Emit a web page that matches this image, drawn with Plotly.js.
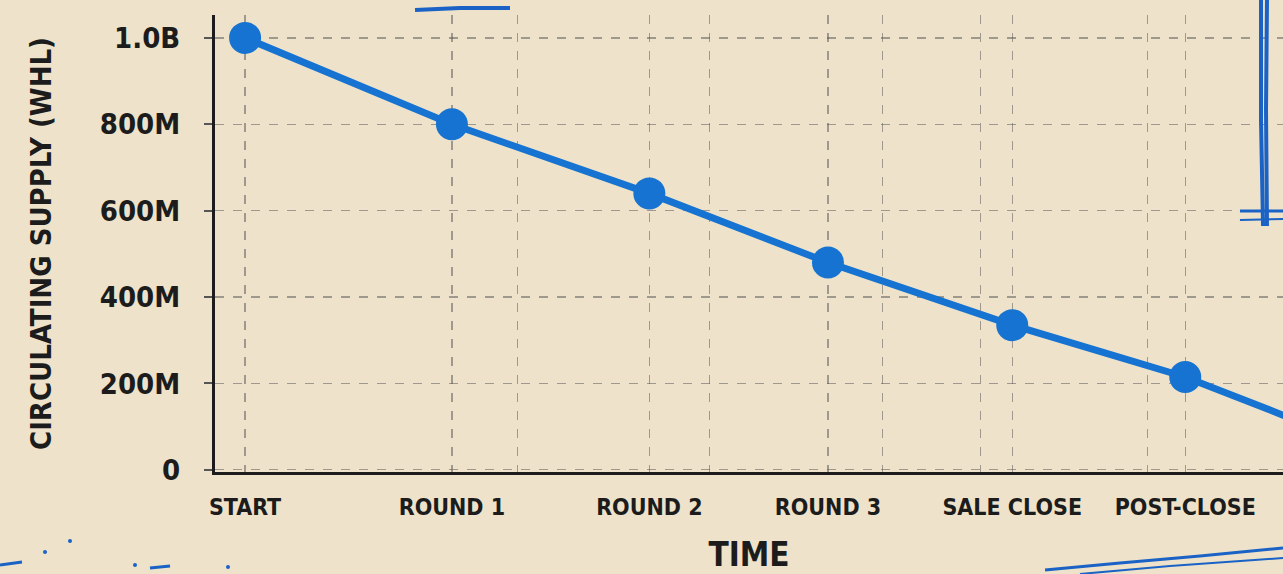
<!DOCTYPE html>
<html>
<head>
<meta charset="utf-8">
<script src="https://cdn.plot.ly/plotly-3.0.1.min.js"></script>
<style>
  html, body { margin: 0; padding: 0; background: #eee3ca; }
  #chart { width: 1283px; height: 574px; }
  #chart svg text { font-stretch: condensed !important; }
</style>
</head>
<body>
<div id="chart"></div>
<script>
// ---- data ----
const stages = ["START", "ROUND 1", "ROUND 2", "ROUND 3", "SALE CLOSE", "POST-CLOSE"];
const stageTime = [0, 1.1, 2.15, 3.1, 4.08, 5.0];          // relative time of each stage
const supply = [1.0e9, 0.80e9, 0.64e9, 0.48e9, 0.335e9, 0.215e9];
const nextTime = 6.0, nextSupply = 0.045e9;                 // following point, beyond the right edge
const yTickVals = [0, 2e8, 4e8, 6e8, 8e8, 1e9];
const yTickText = ["0", "200M", "400M", "600M", "800M", "1.0B"];

const xVals = stageTime.concat([nextTime]);
const yVals = supply.concat([nextSupply]);

const FONT = "DejaVu Sans Condensed, DejaVu Sans, sans-serif";
const INK = "#1c1c1c";
const BLUE = "#1673d1";
const PEN = "#1a62c6";

// pixel -> paper helpers (plot area: l=215, r=0, t=15, b=102)
const L = 215, T = 15, W = 1283 - 215, H = 574 - 15 - 102;
const px = v => (v - L) / W;
const py = v => (T + H - v) / H;

function path(pts) {
  return pts.map((p, i) => (i ? "L" : "M") + px(p[0]).toFixed(4) + "," + py(p[1]).toFixed(4)).join(" ");
}

const decor = [
  { pts: [[415, 10], [460, 8], [510, 8]], w: 4 },
  { pts: [[1261, 0], [1261, 120], [1263, 226]], w: 4 },
  { pts: [[1267, 0], [1266, 110], [1267, 226]], w: 4 },
  { pts: [[1240, 211], [1283, 211]], w: 3 },
  { pts: [[1240, 220], [1283, 219]], w: 2 },
  { pts: [[1045, 570], [1120, 563], [1200, 556], [1283, 548]], w: 3 },
  { pts: [[1080, 574], [1170, 566], [1283, 558]], w: 2 },
  { pts: [[0, 565], [22, 562]], w: 3 },
  { pts: [[150, 568], [170, 566]], w: 3 }
];

const shapes = decor.map(d => ({
  type: "path", xref: "paper", yref: "paper", path: path(d.pts),
  line: { color: PEN, width: d.w }, layer: "above"
}));
[[70, 541], [45, 552], [135, 565], [228, 567]].forEach(p => {
  shapes.push({
    type: "circle", xref: "paper", yref: "paper",
    x0: px(p[0] - 2), x1: px(p[0] + 2), y0: py(p[1] + 2), y1: py(p[1] - 2),
    fillcolor: PEN, line: { width: 0 }
  });
});

const trace = {
  x: xVals, y: yVals, type: "scatter", mode: "lines+markers",
  line: { color: BLUE, width: 7 },
  marker: { color: BLUE, size: 32 },
  cliponaxis: true, hoverinfo: "skip"
};

const GRID = "rgba(80,80,80,0.5)";
const layout = {
  width: 1283, height: 574,
  paper_bgcolor: "#eee3ca", plot_bgcolor: "#eee3ca",
  margin: { l: L, r: 0, t: T, b: 102, pad: 0 },
  showlegend: false,
  font: { family: FONT, color: INK },
  xaxis: {
    range: [-0.16, 5.52],
    tickmode: "array", tickvals: stageTime, ticktext: stages,
    tickfont: { family: FONT, size: 23, color: INK, weight: "bold" },
    ticks: "", ticklabelstandoff: 12,
    showline: true, linecolor: INK, linewidth: 3,
    showgrid: true, gridcolor: GRID, griddash: "dash", gridwidth: 1.3,
    minor: { tickmode: "array", tickvals: [1.45, 2.47, 3.39, 3.91, 4.8], showgrid: true,
             gridcolor: GRID, griddash: "dash", gridwidth: 1.3 },
    zeroline: false,
    title: { text: "TIME", font: { family: FONT, size: 33, color: INK, weight: "bold" }, standoff: 28 }
  },
  yaxis: {
    range: [-0.005e9, 1.053e9],
    tickmode: "array", tickvals: yTickVals, ticktext: yTickText,
    tickfont: { family: FONT, size: 29, color: INK, weight: "bold" },
    ticks: "outside", ticklen: 8, tickwidth: 2, tickcolor: "#555",
    ticklabelstandoff: 18,
    showline: true, linecolor: INK, linewidth: 3,
    showgrid: true, gridcolor: GRID, griddash: "dash", gridwidth: 1.3,
    zeroline: false,
    title: { text: "CIRCULATING SUPPLY (WHL)", font: { family: FONT, size: 29, color: INK, weight: "bold" }, standoff: 40 }
  },
  shapes: shapes
};

Plotly.newPlot("chart", [trace], layout, { displayModeBar: false, staticPlot: true });
</script>
</body>
</html>
